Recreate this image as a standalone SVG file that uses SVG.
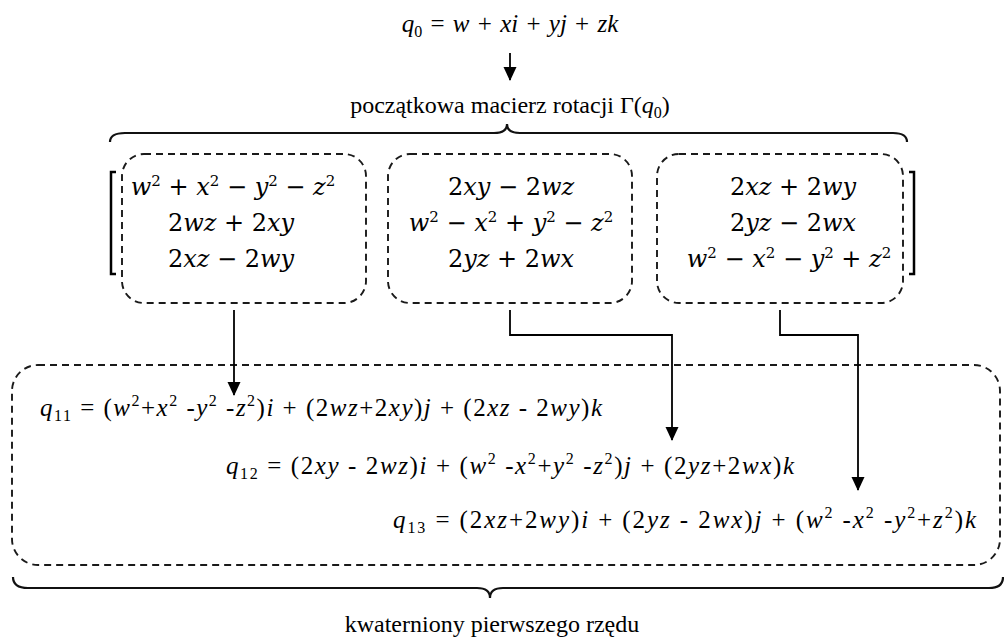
<svg xmlns="http://www.w3.org/2000/svg" width="1004" height="637" viewBox="0 0 1004 637">
<style>
.t{font-size:24px;fill:#000}
.eq{font-size:25px;fill:#000;word-spacing:2px}
.eqb{font-size:25px;fill:#000;word-spacing:0}
.i{font-style:italic}
.s{font-size:16px}
.m{font-size:24px;font-style:italic;fill:#000;text-anchor:middle}
.ms{font-size:15px;font-style:normal}
.mu{font-style:normal}
.box{fill:none;stroke:#1a1a1a;stroke-width:1.9;stroke-dasharray:7 5}
.ln{fill:none;stroke:#000;stroke-width:1.8}
.br{fill:none;stroke:#111;stroke-width:2.2}
.bk{fill:none;stroke:#000;stroke-width:2.5}
</style>
<defs>
<marker id="ah" markerUnits="userSpaceOnUse" markerWidth="14" markerHeight="16" refX="13" refY="6.5" orient="auto">
<path d="M0,0 L14,6.5 L0,13 Z" fill="#000"/>
</marker>
</defs>

<g id="q0" font-family="Liberation Serif, serif">
<text class="eq" x="510" y="32" text-anchor="middle"><tspan class="i">q</tspan><tspan class="s" dy="5">0</tspan><tspan dy="-5"> = </tspan><tspan class="i">w</tspan> + <tspan class="i">xi</tspan> + <tspan class="i">yj</tspan> + <tspan class="i">zk</tspan></text>
</g>

<g id="gamma" font-family="Liberation Serif, serif">
<text class="t" x="510" y="113" text-anchor="middle">początkowa macierz rotacji Γ(<tspan class="i">q</tspan><tspan class="s" dy="5">0</tspan><tspan dy="-5">)</tspan></text>
<path class="br" d="M110,142 Q110,133 125,133 L494,133 Q507,133 507,124 Q507,133 520,133 L893,133 Q907,133 907,142"/>
</g>

<g id="matrix">
<path class="bk" d="M116,172 H111 V274 H116"/>
<path class="bk" d="M909,172 H914 V274 H909"/>
</g>

<g id="col1" font-family="DejaVu Serif, serif">
<rect class="box" x="122" y="154" width="244" height="149" rx="22"/>
<text class="m" x="233" y="195">w<tspan class="ms" dy="-9">2</tspan><tspan class="mu" dy="9"> + </tspan>x<tspan class="ms" dy="-9">2</tspan><tspan class="mu" dy="9"> − </tspan>y<tspan class="ms" dy="-9">2</tspan><tspan class="mu" dy="9"> − </tspan>z<tspan class="ms" dy="-9">2</tspan></text>
<text class="m" x="231" y="231"><tspan class="mu">2</tspan>wz<tspan class="mu"> + 2</tspan>xy</text>
<text class="m" x="231" y="267"><tspan class="mu">2</tspan>xz<tspan class="mu"> − 2</tspan>wy</text>
</g>

<g id="col2" font-family="DejaVu Serif, serif">
<rect class="box" x="388" y="154" width="244" height="149" rx="22"/>
<text class="m" x="511" y="195"><tspan class="mu">2</tspan>xy<tspan class="mu"> − 2</tspan>wz</text>
<text class="m" x="511" y="231">w<tspan class="ms" dy="-9">2</tspan><tspan class="mu" dy="9"> − </tspan>x<tspan class="ms" dy="-9">2</tspan><tspan class="mu" dy="9"> + </tspan>y<tspan class="ms" dy="-9">2</tspan><tspan class="mu" dy="9"> − </tspan>z<tspan class="ms" dy="-9">2</tspan></text>
<text class="m" x="511" y="267"><tspan class="mu">2</tspan>yz<tspan class="mu"> + 2</tspan>wx</text>
</g>

<g id="col3" font-family="DejaVu Serif, serif">
<rect class="box" x="657" y="154" width="246" height="149" rx="22"/>
<text class="m" x="793" y="195"><tspan class="mu">2</tspan>xz<tspan class="mu"> + 2</tspan>wy</text>
<text class="m" x="793" y="231"><tspan class="mu">2</tspan>yz<tspan class="mu"> − 2</tspan>wx</text>
<text class="m" x="789" y="267">w<tspan class="ms" dy="-9">2</tspan><tspan class="mu" dy="9"> − </tspan>x<tspan class="ms" dy="-9">2</tspan><tspan class="mu" dy="9"> − </tspan>y<tspan class="ms" dy="-9">2</tspan><tspan class="mu" dy="9"> + </tspan>z<tspan class="ms" dy="-9">2</tspan></text>
</g>

<g id="quats" font-family="Liberation Serif, serif">
<rect class="box" x="12" y="365" width="988" height="200" rx="26"/>
<text class="eqb" x="40" y="416" textLength="562" lengthAdjust="spacing"><tspan class="i">q</tspan><tspan class="s" dy="5">11</tspan><tspan dy="-5"> = (</tspan><tspan class="i">w</tspan><tspan class="s" dy="-10">2</tspan><tspan dy="10">+</tspan><tspan class="i">x</tspan><tspan class="s" dy="-10">2</tspan><tspan dy="10"> -</tspan><tspan class="i">y</tspan><tspan class="s" dy="-10">2</tspan><tspan dy="10"> -</tspan><tspan class="i">z</tspan><tspan class="s" dy="-10">2</tspan><tspan dy="10">)</tspan><tspan class="i">i</tspan> + (2<tspan class="i">wz</tspan>+2<tspan class="i">xy</tspan>)<tspan class="i">j</tspan> + (2<tspan class="i">xz</tspan> - 2<tspan class="i">wy</tspan>)<tspan class="i">k</tspan></text>
<text class="eqb" x="226" y="474" textLength="568" lengthAdjust="spacing"><tspan class="i">q</tspan><tspan class="s" dy="5">12</tspan><tspan dy="-5"> = (2</tspan><tspan class="i">xy</tspan> - 2<tspan class="i">wz</tspan>)<tspan class="i">i</tspan> + (<tspan class="i">w</tspan><tspan class="s" dy="-10">2</tspan><tspan dy="10"> -</tspan><tspan class="i">x</tspan><tspan class="s" dy="-10">2</tspan><tspan dy="10">+</tspan><tspan class="i">y</tspan><tspan class="s" dy="-10">2</tspan><tspan dy="10"> -</tspan><tspan class="i">z</tspan><tspan class="s" dy="-10">2</tspan><tspan dy="10">)</tspan><tspan class="i">j</tspan> + (2<tspan class="i">yz</tspan>+2<tspan class="i">wx</tspan>)<tspan class="i">k</tspan></text>
<text class="eqb" x="393" y="528" textLength="583" lengthAdjust="spacing"><tspan class="i">q</tspan><tspan class="s" dy="5">13</tspan><tspan dy="-5"> = (2</tspan><tspan class="i">xz</tspan>+2<tspan class="i">wy</tspan>)<tspan class="i">i</tspan> + (2<tspan class="i">yz</tspan> - 2<tspan class="i">wx</tspan>)<tspan class="i">j</tspan> + (<tspan class="i">w</tspan><tspan class="s" dy="-10">2</tspan><tspan dy="10"> -</tspan><tspan class="i">x</tspan><tspan class="s" dy="-10">2</tspan><tspan dy="10"> -</tspan><tspan class="i">y</tspan><tspan class="s" dy="-10">2</tspan><tspan dy="10">+</tspan><tspan class="i">z</tspan><tspan class="s" dy="-10">2</tspan><tspan dy="10">)</tspan><tspan class="i">k</tspan></text>
</g>

<g id="label" font-family="Liberation Serif, serif">
<path class="br" d="M13,577 Q13,588 28,588 L477,588 Q490,588 490,598 Q490,588 503,588 L989,588 Q1003,588 1003,577"/>
<text class="t" x="492" y="632" text-anchor="middle">kwaterniony pierwszego rzędu</text>
</g>

<g id="connectors">
<path class="ln" d="M510,53 V80" marker-end="url(#ah)"/>
<path class="ln" d="M234,310 V395" marker-end="url(#ah)"/>
<path class="ln" d="M510,310 V335 H672 V440" marker-end="url(#ah)"/>
<path class="ln" d="M780,310 V335 H858 V490" marker-end="url(#ah)"/>
</g>
</svg>
